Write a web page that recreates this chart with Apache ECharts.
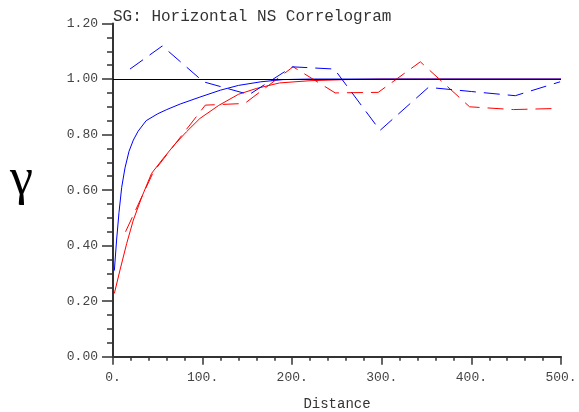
<!DOCTYPE html>
<html><head><meta charset="utf-8">
<script src="https://cdn.jsdelivr.net/npm/echarts@6/dist/echarts.min.js"></script>
<style>html,body{margin:0;padding:0;background:#fff}#c{width:579px;height:412px}</style>
</head><body><div id="c"></div>
<script>
const titleText = 'SG: Horizontal NS Correlogram';
const xName = 'Distance';
const yName = 'γ';
const xTicks = [0, 100, 200, 300, 400, 500];
const xTickLabels = ['0.', '100.', '200.', '300.', '400.', '500.'];
const yTicks = [0, 0.2, 0.4, 0.6, 0.8, 1.0, 1.2];
const yTickLabels = ['0.00', '0.20', '0.40', '0.60', '0.80', '1.00', '1.20'];
const sillLevel = 1.0;

// experimental (dashed)
const blueExpLag = [19, 55, 101, 152, 200, 247, 298, 352, 400, 449, 499];
const blueExpVal = [1.036, 1.119, 0.99, 0.944, 1.044, 1.036, 0.815, 0.97, 0.955, 0.94, 0.99];
const redExpLag = [14, 45, 103, 147, 201, 248, 296, 343, 398, 447, 495];
const redExpVal = [0.45, 0.665, 0.906, 0.912, 1.044, 0.95, 0.952, 1.062, 0.9, 0.89, 0.894];

// model (solid)
const blueModLag = [1.5, 4, 6.7, 9.7, 13.4, 17.9, 22.7, 28, 37, 50, 60, 75, 97, 120, 140, 165, 190, 220, 500];
const blueModVal = [0.31, 0.42, 0.52, 0.61, 0.68, 0.74, 0.78, 0.812, 0.85, 0.875, 0.89, 0.91, 0.935, 0.96, 0.977, 0.99, 0.998, 1.0, 1.0];
const redModLag = [1.5, 7.8, 15.3, 22.7, 32, 43, 56, 69, 82, 97, 118, 140, 160, 186, 220, 260, 300, 500];
const redModVal = [0.228, 0.312, 0.408, 0.492, 0.574, 0.66, 0.714, 0.765, 0.81, 0.858, 0.905, 0.945, 0.966, 0.986, 0.994, 0.998, 1.0, 1.0];

const zip = (a, b) => a.map((v, i) => [v, b[i]]);
const mono = 'Liberation Mono, DejaVu Sans Mono, monospace';

const chart = echarts.init(document.getElementById('c'), null, {renderer: 'canvas'});
chart.setOption({
  animation: false,
  backgroundColor: '#fff',
  title: {
    text: titleText, left: 113, top: 9, padding: 0,
    textStyle: {fontFamily: mono, fontSize: 16, fontWeight: 'normal', color: '#333'}
  },
  graphic: [{
    type: 'text', left: 10, top: 154, silent: true,
    style: {text: yName, font: '52px "Liberation Serif", "DejaVu Serif", serif', fill: '#000'}
  }],
  grid: {left: 113, right: 18, top: 23.5, bottom: 55.3, containLabel: false, outerBoundsMode: 'none'},
  xAxis: {
    type: 'value', min: 0, max: 500, interval: 100,
    name: xName, nameLocation: 'middle', nameGap: 41,
    nameTextStyle: {fontFamily: mono, fontSize: 14, color: '#333'},
    axisLine: {show: true, onZero: false, lineStyle: {color: '#333', width: 2}},
    axisTick: {show: true, inside: false, length: 8, lineStyle: {color: '#333', width: 1.5}},
    minorTick: {show: true, splitNumber: 5, length: 4, lineStyle: {color: '#333', width: 1.5}},
    splitLine: {show: false},
    axisLabel: {
      fontFamily: mono, fontSize: 13, color: '#444', margin: 14, showMaxLabel: true,
      formatter: v => { const i = xTicks.indexOf(Math.round(v)); return i >= 0 ? xTickLabels[i] : ''; }
    }
  },
  yAxis: {
    type: 'value', min: 0, max: 1.2, interval: 0.2,
    axisLine: {show: true, onZero: false, lineStyle: {color: '#333', width: 2}},
    axisTick: {show: true, inside: false, length: 11, lineStyle: {color: '#333', width: 1.5}},
    minorTick: {show: true, splitNumber: 4, length: 6, lineStyle: {color: '#333', width: 1.5}},
    splitLine: {show: false},
    axisLabel: {
      fontFamily: mono, fontSize: 13, color: '#444', margin: 15, padding: [0, 0, 6, 0],
      formatter: v => { const i = yTicks.findIndex(t => Math.abs(t - v) < 1e-6); return i >= 0 ? yTickLabels[i] : ''; }
    }
  },
  series: [
    {type: 'line', data: zip(redModLag, redModVal), symbol: 'none', smooth: false,
     lineStyle: {color: '#ff0000', width: 1}},
    {type: 'line', data: zip(blueModLag, blueModVal), symbol: 'none', smooth: false,
     lineStyle: {color: '#0000ff', width: 1}},
    {type: 'line', data: zip(redExpLag, redExpVal), symbol: 'none', smooth: false,
     lineStyle: {color: '#ff0000', width: 1, type: [16, 8]}},
    {type: 'line', data: zip(blueExpLag, blueExpVal), symbol: 'none', smooth: false,
     lineStyle: {color: '#0000ff', width: 1, type: [16, 8]},
     markLine: {silent: true, symbol: 'none', label: {show: false},
       lineStyle: {color: '#000', width: 1, type: 'solid'},
       data: [{yAxis: sillLevel}]}}
  ]
});
</script></body></html>
